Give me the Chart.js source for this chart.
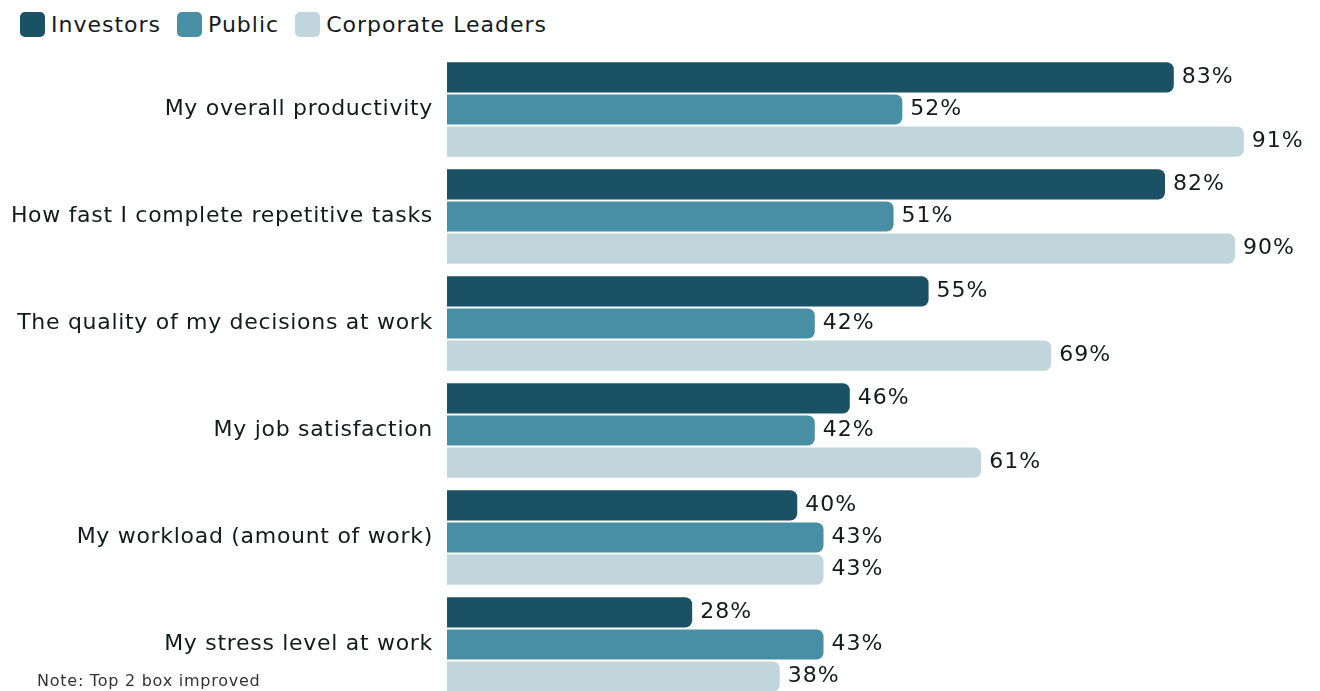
<!DOCTYPE html>
<html>
<head>
<meta charset="utf-8">
<script src="https://cdn.jsdelivr.net/npm/chart.js@4.4.1/dist/chart.umd.min.js"></script>
<style>
  html, body { margin: 0; padding: 0; background: #fff; overflow: hidden; }
  .marco { position: relative; width: 1320px; height: 691px; overflow: hidden; font-family: 'DejaVu Sans', sans-serif; color: #151a1c; }
  .lienzo { position: absolute; left: 0; top: 0; }
  .leyenda { position: absolute; left: 20px; top: 12px; display: flex; align-items: center; font-size: 22px; letter-spacing: 1px; }
  .leyenda-item { display: flex; align-items: center; margin-right: 16px; }
  .leyenda-color { width: 25px; height: 25px; border-radius: 5px; margin-right: 6px; }
  .nota { position: absolute; left: 37px; top: 671px; font-size: 16px; letter-spacing: 0.75px; color: #333; }
</style>
</head>
<body>
<div class="marco">
  <div class="leyenda" id="leyenda"></div>
  <canvas id="grafico" class="lienzo" width="1320" height="698"></canvas>
  <div class="nota">Note: Top 2 box improved</div>
</div>
<script>
// Categorías y porcentajes por grupo encuestado
const categorias = [
  'My overall productivity',
  'How fast I complete repetitive tasks',
  'The quality of my decisions at work',
  'My job satisfaction',
  'My workload (amount of work)',
  'My stress level at work',
];
const inversores = [83, 82, 55, 46, 40, 28];
const publico = [52, 51, 42, 42, 43, 43];
const lideres = [91, 90, 69, 61, 43, 38];

const series = [
  { nombre: 'Investors', datos: inversores, color: '#1b5164' },
  { nombre: 'Public', datos: publico, color: '#488fa5' },
  { nombre: 'Corporate Leaders', datos: lideres, color: '#c1d5dc' },
];

const FUENTE = "'DejaVu Sans', sans-serif";

// Un poco de espaciado entre letras para los textos del canvas
// (el contexto se reinicia al dimensionar, así que se aplica en cada fase)
const espaciado = {
  id: 'espaciado',
  beforeUpdate(chart) { chart.ctx.letterSpacing = '0.7px'; },
  beforeDraw(chart) { chart.ctx.letterSpacing = '0.7px'; },
};

// Etiquetas de valor al final de cada barra
const etiquetasValor = {
  id: 'etiquetasValor',
  afterDatasetsDraw(chart) {
    const ctx = chart.ctx;
    ctx.save();
    ctx.font = `22px ${FUENTE}`;
    ctx.letterSpacing = '1px';
    ctx.fillStyle = '#151a1c';
    ctx.textAlign = 'left';
    ctx.textBaseline = 'middle';
    chart.data.datasets.forEach((ds, i) => {
      chart.getDatasetMeta(i).data.forEach((barra, j) => {
        ctx.fillText(`${ds.data[j]}%`, barra.x + 8, barra.y);
      });
    });
    ctx.restore();
  },
};

new Chart(document.getElementById('grafico'), {
  type: 'bar',
  data: {
    labels: categorias,
    datasets: series.map(s => ({
      label: s.nombre,
      data: s.datos,
      backgroundColor: s.color,
      borderRadius: { topLeft: 0, bottomLeft: 0, topRight: 7, bottomRight: 7 },
      borderSkipped: false,
      categoryPercentage: 0.9,
      barPercentage: 0.94,
    })),
  },
  options: {
    indexAxis: 'y',
    responsive: false,
    animation: false,
    layout: { padding: { top: 56, right: 0, bottom: 0, left: 0 } },
    plugins: {
      legend: { display: false },
      tooltip: { enabled: false },
    },
    scales: {
      x: { display: false, min: 0, max: 99.7 },
      y: {
        grid: { display: false },
        border: { display: false },
        ticks: { color: '#151a1c', padding: 6, font: { family: FUENTE, size: 22 } },
        afterFit(scale) {
          scale.width = 447;
          scale.paddingTop = 0;
          scale.paddingBottom = 0;
        },
      },
    },
  },
  plugins: [espaciado, etiquetasValor],
});

// Leyenda propia en HTML
document.getElementById('leyenda').innerHTML = series.map(s => `
  <div class="leyenda-item">
    <span class="leyenda-color" style="background: ${s.color}"></span>
    <span>${s.nombre}</span>
  </div>
`).join('');
</script>
</body>
</html>
